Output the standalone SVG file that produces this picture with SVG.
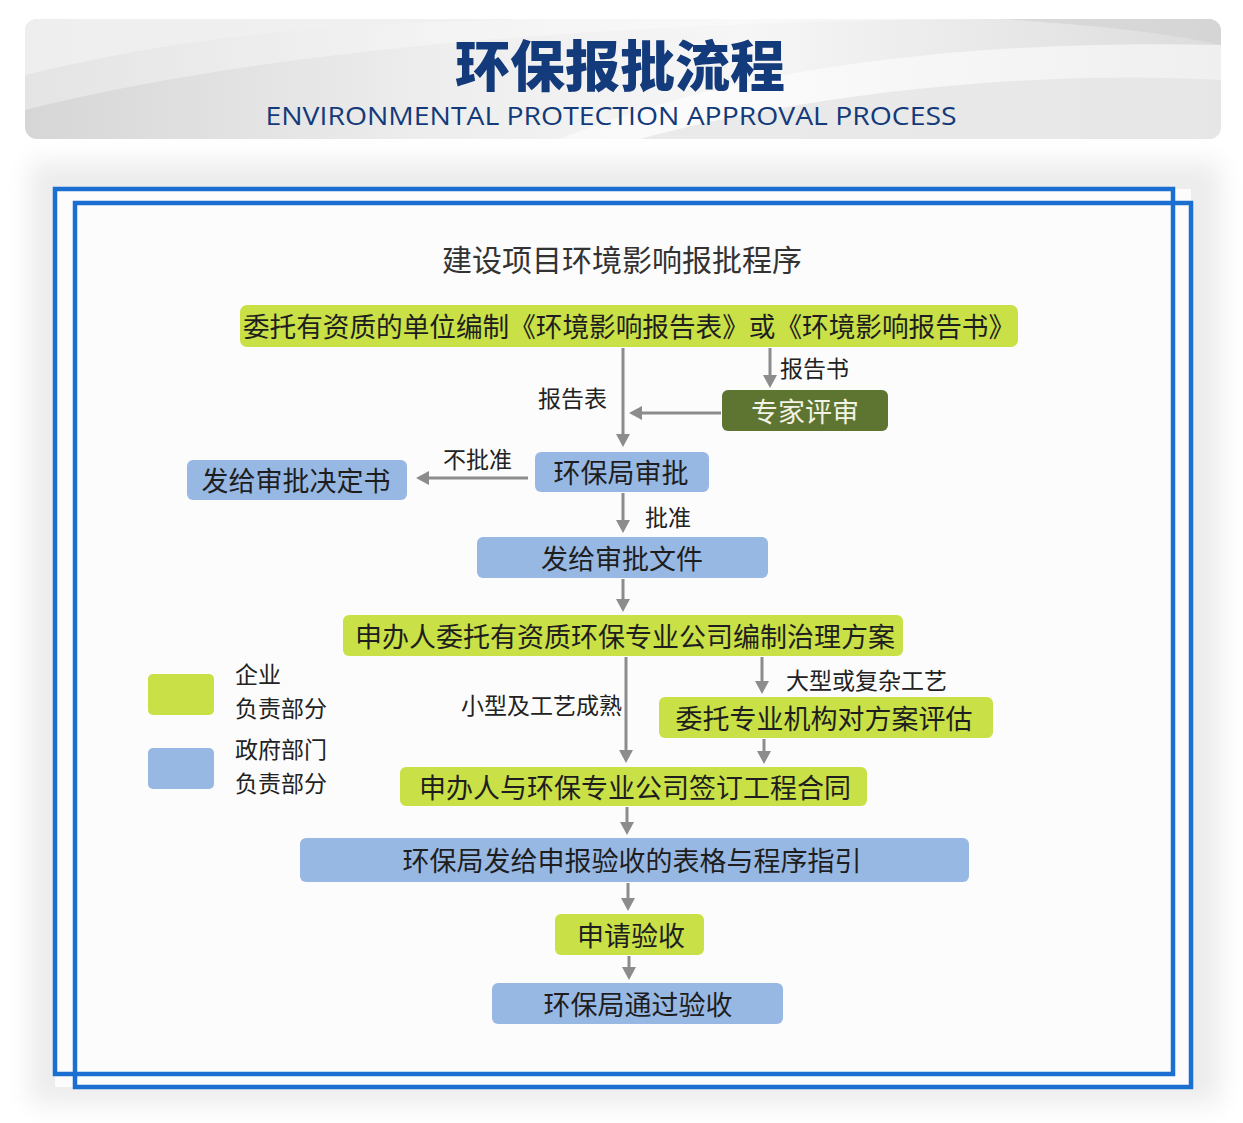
<svg xmlns="http://www.w3.org/2000/svg" width="1243" height="1123" viewBox="0 0 1243 1123">
<defs>
<linearGradient id="hdr" x1="0" y1="0" x2="1" y2="0">
<stop offset="0" stop-color="#d6d6d6"/>
<stop offset="0.35" stop-color="#eeeeee"/>
<stop offset="0.6" stop-color="#f6f6f6"/>
<stop offset="1" stop-color="#dcdcdc"/>
</linearGradient>
<filter id="blur" x="-5%" y="-5%" width="110%" height="110%"><feGaussianBlur stdDeviation="12"/></filter>
<clipPath id="hclip"><rect x="25" y="19" width="1196" height="120" rx="12"/></clipPath>
<marker id="arr" markerUnits="userSpaceOnUse" markerWidth="14" markerHeight="14" refX="1" refY="7" orient="auto">
<path d="M0,0 L13,7 L0,14 z" fill="#8c8c8c"/>
</marker>
<style>
.cjk{font-family:"Noto Sans CJK SC","Noto Sans",sans-serif;dominant-baseline:central;text-anchor:middle}
.node{font-size:27px;fill:#1e1e1e}
.lbl{font-size:23px;fill:#222;text-anchor:start}
.g{fill:#c9e046}
.b{fill:#98b8e4}
.conn line,.conn path{stroke:#8c8c8c;stroke-width:3;fill:none;marker-end:url(#arr)}
.frame{fill:none;stroke:#1a6fd1;stroke-width:4.5}
</style>
</defs>
<rect width="1243" height="1123" fill="#ffffff"/>
<g id="header" clip-path="url(#hclip)">
<rect x="25" y="19" width="1196" height="120" fill="url(#hdr)"/>
<path d="M25,75 C250,20 420,25 520,19 L25,19 z" fill="#e8e8e8" opacity="0.8"/>
<path d="M25,110 C300,40 700,20 1000,19 L25,19 z" fill="#ffffff" opacity="0.35"/>
<path d="M560,139 C750,60 1000,40 1221,45 L1221,139 z" fill="#ffffff" opacity="0.55"/>
<path d="M640,139 C820,90 1050,70 1221,80 L1221,139 z" fill="#e2e2e2" opacity="0.7"/>
<path d="M1000,19 C1100,25 1180,35 1221,45 L1221,19 z" fill="#d0d0d0" opacity="0.6"/>
<text x="620" y="62" class="cjk" font-size="55" font-weight="900" fill="#133a7a">环保报批流程</text>
<text x="611" y="115" font-family="'Open Sans','Liberation Sans',sans-serif" font-size="26" fill="#133a7a" text-anchor="middle" dominant-baseline="central" textLength="691" lengthAdjust="spacingAndGlyphs">ENVIRONMENTAL PROTECTION APPROVAL PROCESS</text>
</g>
<g id="panel">
<rect x="30" y="162" width="1190" height="942" fill="#ececec" filter="url(#blur)"/>
<rect x="55" y="189" width="1136" height="898" fill="#fcfcfc"/>
<rect class="frame" x="55" y="189" width="1118" height="885"/>
<rect class="frame" x="75" y="203" width="1116" height="884"/>
<text x="622" y="258" class="cjk" font-size="30" fill="#333">建设项目环境影响报批程序</text>
</g>
<g id="legend">
<rect x="148" y="674" width="66" height="41" rx="5" class="g"/>
<rect x="148" y="748" width="66" height="41" rx="5" class="b"/>
<text x="235" y="673" class="cjk lbl">企业</text>
<text x="235" y="707" class="cjk lbl">负责部分</text>
<text x="235" y="748" class="cjk lbl">政府部门</text>
<text x="235" y="782" class="cjk lbl">负责部分</text>
</g>
<g class="conn" id="connectors">
<line x1="623" y1="348" x2="623" y2="435"/>
<line x1="770" y1="348" x2="770" y2="376"/>
<line x1="721" y1="413" x2="641" y2="413"/>
<line x1="528" y1="478" x2="428" y2="478"/>
<line x1="623" y1="493" x2="623" y2="521"/>
<line x1="623" y1="579" x2="623" y2="600"/>
<line x1="626" y1="657" x2="626" y2="751"/>
<line x1="762" y1="657" x2="762" y2="682"/>
<line x1="764" y1="739" x2="764" y2="752"/>
<line x1="627" y1="807" x2="627" y2="823"/>
<line x1="628" y1="883" x2="628" y2="899"/>
<line x1="629" y1="956" x2="629" y2="968"/>
<text x="538" y="397" class="cjk lbl">报告表</text>
<text x="780" y="367" class="cjk lbl">报告书</text>
<text x="443" y="458" class="cjk lbl">不批准</text>
<text x="645" y="516" class="cjk lbl">批准</text>
<text x="461" y="704" class="cjk lbl">小型及工艺成熟</text>
<text x="786" y="679" class="cjk lbl">大型或复杂工艺</text>
</g>
<g id="n1"><rect x="240" y="305" width="778" height="42" rx="7" class="g"/><text x="629" y="325" class="cjk node" textLength="772" lengthAdjust="spacingAndGlyphs">委托有资质的单位编制《环境影响报告表》或《环境影响报告书》</text></g>
<g id="n2"><rect x="722" y="390" width="166" height="41" rx="6" fill="#5e7531"/><text x="805" y="410" class="cjk node" style="fill:#f2f2e6">专家评审</text></g>
<g id="n3"><rect x="535" y="452" width="174" height="40" rx="6" class="b"/><text x="621" y="471" class="cjk node">环保局审批</text></g>
<g id="n4"><rect x="187" y="460" width="220" height="40" rx="6" class="b"/><text x="296" y="479" class="cjk node">发给审批决定书</text></g>
<g id="n5"><rect x="477" y="537" width="291" height="41" rx="6" class="b"/><text x="622" y="557" class="cjk node">发给审批文件</text></g>
<g id="n6"><rect x="343" y="615" width="560" height="41" rx="6" class="g"/><text x="625" y="635" class="cjk node">申办人委托有资质环保专业公司编制治理方案</text></g>
<g id="n7"><rect x="659" y="697" width="334" height="41" rx="6" class="g"/><text x="824" y="717" class="cjk node">委托专业机构对方案评估</text></g>
<g id="n8"><rect x="400" y="767" width="467" height="39" rx="6" class="g"/><text x="635" y="786" class="cjk node">申办人与环保专业公司签订工程合同</text></g>
<g id="n9"><rect x="300" y="838" width="669" height="44" rx="6" class="b"/><text x="632" y="859" class="cjk node">环保局发给申报验收的表格与程序指引</text></g>
<g id="n10"><rect x="555" y="914" width="149" height="41" rx="6" class="g"/><text x="631" y="934" class="cjk node">申请验收</text></g>
<g id="n11"><rect x="492" y="983" width="291" height="41" rx="6" class="b"/><text x="638" y="1003" class="cjk node">环保局通过验收</text></g>
</svg>
